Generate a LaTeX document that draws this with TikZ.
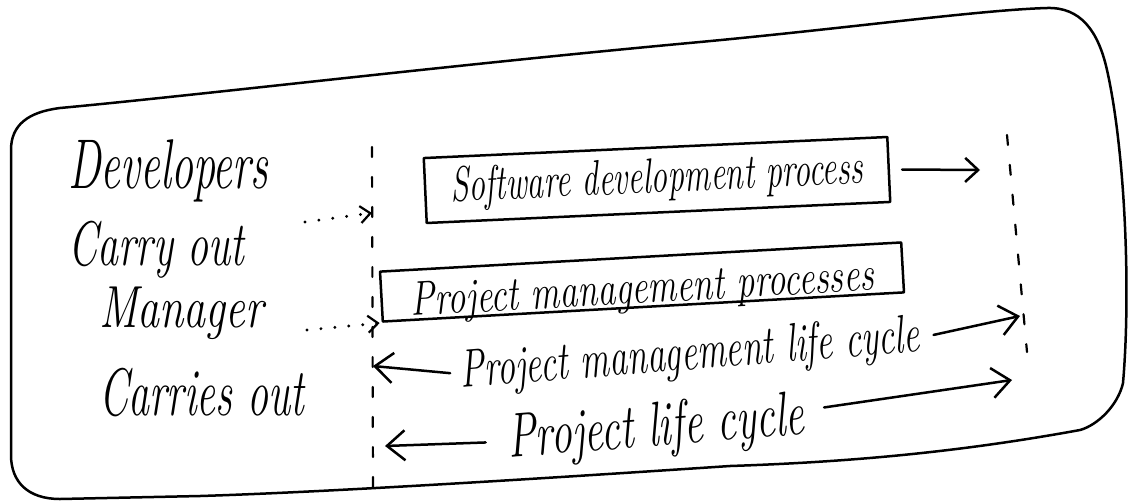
\documentclass[tikz,border=0pt]{standalone}
\usepackage{graphicx}
\usetikzlibrary{arrows.meta}
\newcommand\hwtext[2][1.5]{\scalebox{1}[#1]{#2}}
\begin{document}
\begin{tikzpicture}[x=1pt,y=-1pt,
  pen/.style={line width=2.5pt,line cap=round,line join=round},
  barb/.style={-{Straight Barb[length=18pt,width=30pt]}},
  smallbarb/.style={-{Straight Barb[length=13pt,width=24pt]}},
  dotbarb/.style={-{Straight Barb[length=10pt,width=17pt,line width=2.2pt]}},
  dotline/.style={pen,line width=3.2pt,dash pattern=on 0pt off 14pt},
  guide/.style={pen,line width=2.2pt,dash pattern=on 10pt off 20pt},
  hand/.style={font=\itshape\fontsize{#1}{#1}\selectfont,inner sep=0pt},
  box/.style={draw,pen,inner sep=0pt}]
\useasboundingbox (0,0) rectangle (1129,501);
% outer frame
\draw[pen] (60,108) .. controls (200,95) and (450,65) .. (700,42)
  .. controls (850,28) and (980,10) .. (1047,8)
  .. controls (1080,7) and (1098,30) .. (1107,70)
  .. controls (1125,150) and (1131,290) .. (1123,383)
  .. controls (1118,405) and (1098,425) .. (1080,430)
  .. controls (960,452) and (850,462) .. (730,466)
  .. controls (550,478) and (330,492) .. (200,496)
  -- (60,499) .. controls (28,499) and (11,482) .. (11,455)
  -- (11,150) .. controls (11,125) and (28,112) .. (60,108) -- cycle;
% left column
\node[hand=44,anchor=base west] (dev) at (68,188) {\hwtext[1.6]{Developers}};
\node[hand=42,anchor=base west] (carry) at (68,265) {\hwtext{Carry out}};
\node[hand=44,anchor=base west] (mgr) at (99,327) {\hwtext[1.35]{Manager}};
\node[hand=42,anchor=base west] (carries) at (99,415) {\hwtext[1.6]{Carries out}};
% guide lines
\coordinate (g1t) at (372,147); \coordinate (g1b) at (373,490);
\coordinate (g2t) at (1007,135); \coordinate (g2b) at (1027,352);
\draw[guide] (g1t) -- (g1b);
\draw[guide] (g2t) -- (g2b);
% boxes
\node[box,rotate=2.6,minimum width=464pt,minimum height=65pt,hand=33] (sdp) at (657,180) {\hwtext{Software development process}};
\node[box,rotate=3.2,minimum width=522pt,minimum height=50pt,hand=36,text height=42pt,text depth=0pt] (pmp) at (642,282) {\hwtext[1.35]{Project management processes}};
% life cycle labels
\node[hand=36,rotate=4.5] (pmlc) at (690,356) {\hwtext{Project management life cycle}};
\node[hand=42,rotate=4.5] (plc) at (656,430) {\hwtext{Project life cycle}};
% arrow ends
\coordinate (t1) at (373,366);
\coordinate (t2) at (1020,316);
\coordinate (t3) at (385,446);
\coordinate (t4) at (1012,380);
\coordinate (t5) at (980,170);
\coordinate (a1) at (305,222); \coordinate (a2) at (372,213);
\coordinate (b1) at (307,330);
% connectors
\draw[dotline,dotbarb] (a1) -- (a2);
\draw[dotline,dotbarb,shorten >=2pt] (b1) -- (pmp.south west);
\draw[pen,smallbarb,shorten <=12pt] (sdp.east) -- (t5);
\draw[pen,barb,shorten <=10pt] (pmlc.west) -- (t1);
\draw[pen,barb,shorten <=14pt] (pmlc.east) -- (t2);
\draw[pen,barb,shorten <=22pt] (plc.west) -- (t3);
\draw[pen,barb,shorten <=20pt] ([yshift=8pt]plc.east) -- (t4);
\end{tikzpicture}
\end{document}
